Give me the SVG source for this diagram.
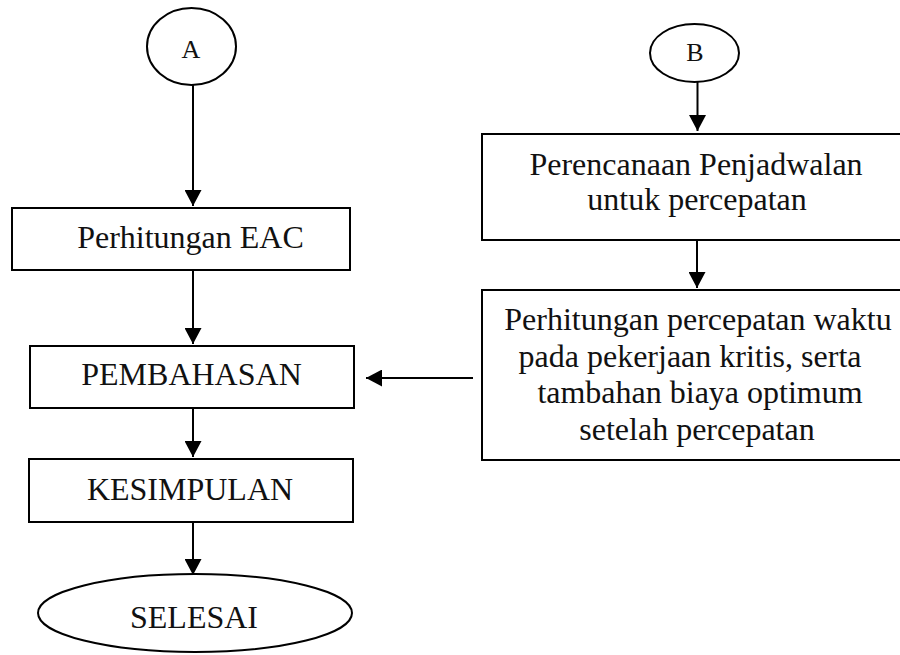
<svg xmlns="http://www.w3.org/2000/svg" width="900" height="655" viewBox="0 0 900 655">
<style>
.shape{fill:none;stroke:#000;stroke-width:2}
.lbl{font-family:"Liberation Serif","Times New Roman",serif;font-size:32px;fill:#111;text-anchor:middle}
.sm{font-size:26px}
.conn{stroke:#000;stroke-width:2;fill:none;marker-end:url(#ah)}
</style>
<defs>
<marker id="ah" markerUnits="userSpaceOnUse" markerWidth="17" markerHeight="17" refX="16" refY="8.5" orient="auto">
<path d="M0,0 L16,8.5 L0,17 Z" fill="#000"/>
</marker>
</defs>
<rect width="900" height="655" fill="#fff"/>
<g id="nodeA">
<ellipse class="shape" cx="191.5" cy="46.5" rx="44.5" ry="38.5"/>
<text class="lbl sm" x="191" y="58">A</text>
</g>
<g id="nodeB">
<ellipse class="shape" cx="694.5" cy="53" rx="44.5" ry="29"/>
<text class="lbl sm" x="695" y="61">B</text>
</g>
<g id="eac">
<rect class="shape" x="12" y="208" width="338" height="62"/>
<text class="lbl" x="190.5" y="248">Perhitungan EAC</text>
</g>
<g id="pembahasan">
<rect class="shape" x="30" y="346" width="324" height="62"/>
<text class="lbl" x="191.5" y="385">PEMBAHASAN</text>
</g>
<g id="kesimpulan">
<rect class="shape" x="29" y="459" width="324" height="63"/>
<text class="lbl" x="190" y="500">KESIMPULAN</text>
</g>
<g id="selesai">
<ellipse class="shape" cx="195" cy="613" rx="157" ry="39"/>
<text class="lbl" x="194" y="628">SELESAI</text>
</g>
<g id="perencanaan">
<rect class="shape" x="482" y="134" width="430" height="106"/>
<text class="lbl" x="696" y="175">Perencanaan Penjadwalan</text>
<text class="lbl" x="697" y="210">untuk percepatan</text>
</g>
<g id="percepatan">
<rect class="shape" x="482" y="290" width="430" height="170"/>
<text class="lbl" x="698" y="330">Perhitungan percepatan waktu</text>
<text class="lbl" x="690" y="367">pada pekerjaan kritis, serta</text>
<text class="lbl" x="700" y="403">tambahan biaya optimum</text>
<text class="lbl" x="697" y="440">setelah percepatan</text>
</g>
<g id="connectors">
<line class="conn" x1="193" y1="85" x2="193" y2="206"/>
<line class="conn" x1="193" y1="270" x2="193" y2="344"/>
<line class="conn" x1="193" y1="408" x2="193" y2="457"/>
<line class="conn" x1="193" y1="522" x2="193" y2="575"/>
<line class="conn" x1="697.5" y1="82" x2="697.5" y2="131"/>
<line class="conn" x1="697" y1="240" x2="697" y2="288"/>
<line class="conn" x1="473" y1="378" x2="366" y2="378"/>
</g>
</svg>
